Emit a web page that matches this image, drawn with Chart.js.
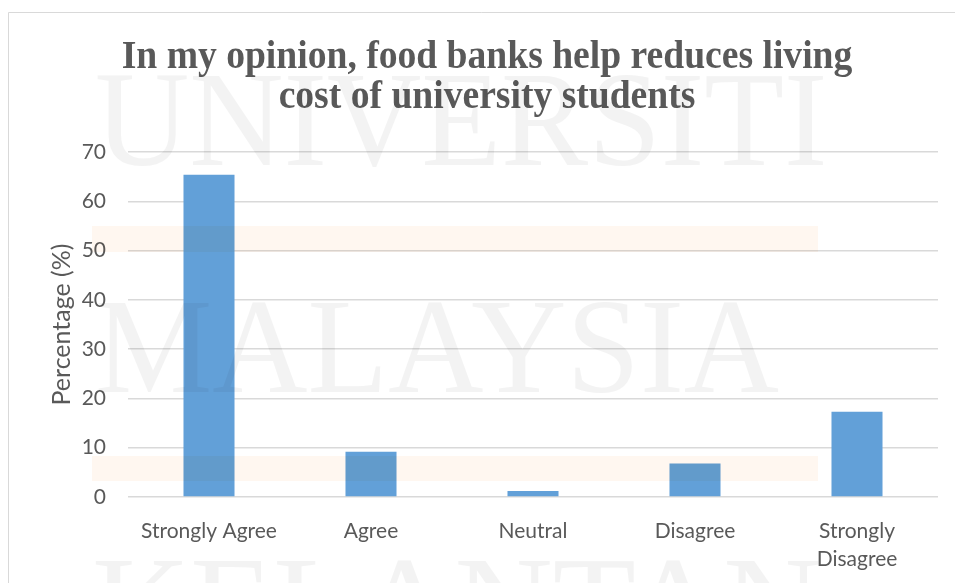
<!DOCTYPE html>
<html>
<head>
<meta charset="utf-8">
<script src="https://cdn.jsdelivr.net/npm/chart.js@4"></script>
<style>
  html, body { margin: 0; padding: 0; background: #fff; }
  #wrap { width: 955px; height: 583px; position: relative; }
</style>
</head>
<body>
<div id="wrap"><canvas id="chart" width="955" height="583"></canvas></div>
<script>
// Survey item: do food banks lower living costs for students?
const TITLE_LINES = ["In my opinion, food banks help reduces living", "cost of university students"];
const CATEGORIES = ["Strongly Agree", "Agree", "Neutral", "Disagree", ["Strongly", "Disagree"]];
const PERCENTAGES = [65.4, 9.2, 1.2, 6.8, 17.3];
const Y_TICKS = { min: 0, max: 70, step: 10 };
const Y_TITLE = "Percentage (%)";
const WATERMARK = ["UNIVERSITI", "MALAYSIA", "KELANTAN"];

const INK = "#595959";
const BAR = "#62a0d8";
const SANS = "Lato, 'Open Sans', sans-serif";

// white page, thin frame and the condensed serif heading
const frame = {
  id: "frame",
  beforeDraw(chart) {
    const ctx = chart.ctx;
    ctx.save();
    ctx.fillStyle = "#fff";
    ctx.fillRect(0, 0, chart.width, chart.height);
    ctx.strokeStyle = "#d9d9d9";
    ctx.lineWidth = 1;
    ctx.beginPath();
    ctx.moveTo(8.5, chart.height); ctx.lineTo(8.5, 12.5); ctx.lineTo(chart.width, 12.5);
    ctx.stroke();

    ctx.fillStyle = INK;
    ctx.font = "bold 40px 'Liberation Serif', 'DejaVu Serif', serif";
    ctx.textAlign = "center";
    ctx.textBaseline = "alphabetic";
    const cx = 487, sx = 0.94;
    [68, 108].forEach((y, i) => {
      ctx.save();
      ctx.translate(cx, y);
      ctx.scale(sx, 1);
      ctx.fillText(TITLE_LINES[i], 0, 0);
      ctx.restore();
    });
    ctx.restore();
  },
  // faint watermark lettering and pale bands laid over the plot
  afterDraw(chart) {
    const ctx = chart.ctx;
    ctx.save();
    ctx.globalCompositeOperation = "multiply";
    ctx.fillStyle = "#fff7f0";
    ctx.fillRect(92, 226, 726, 26);
    ctx.fillRect(92, 456, 726, 25);
    ctx.fillStyle = "#f3f3f3";
    ctx.font = "136px 'Liberation Serif', 'DejaVu Serif', serif";
    ctx.textAlign = "left";
    ctx.textBaseline = "alphabetic";
    [[95, 165, 0.96], [95, 392, 0.97], [92, 650, 1.0]].forEach(([x, y, s], i) => {
      ctx.save();
      ctx.translate(x, y);
      ctx.scale(s, 1);
      ctx.fillText(WATERMARK[i], 0, 0);
      ctx.restore();
    });
    ctx.restore();
  }
};

new Chart(document.getElementById("chart"), {
  type: "bar",
  data: {
    labels: CATEGORIES,
    datasets: [{
      data: PERCENTAGES,
      backgroundColor: BAR,
      borderWidth: 0,
      barPercentage: 0.315,
      categoryPercentage: 1.0,
    }],
  },
  options: {
    responsive: false,
    animation: false,
    layout: { padding: { top: 152, right: 17, bottom: 0, left: 0 } },
    plugins: { legend: { display: false }, tooltip: { enabled: false }, title: { display: false } },
    scales: {
      x: {
        grid: { display: false },
        border: { display: false },
        ticks: {
          color: INK, padding: 12, maxRotation: 0, autoSkip: false,
          font: { family: SANS, size: 21, lineHeight: 1.35 },
        },
        afterFit: s => { s.height = 86; },
      },
      y: {
        min: Y_TICKS.min, max: Y_TICKS.max,
        border: { display: false },
        grid: { color: "#d9d9d9", lineWidth: 1.5, drawTicks: false },
        ticks: {
          stepSize: Y_TICKS.step, color: INK, padding: 22,
          font: { family: SANS, size: 21 },
        },
        title: {
          display: true, text: Y_TITLE, color: INK,
          font: { family: SANS, size: 25 },
          padding: { top: 47, bottom: 0 },
        },
        afterFit: s => { s.width = 128; },
      },
    },
  },
  plugins: [frame],
});
</script>
</body>
</html>
